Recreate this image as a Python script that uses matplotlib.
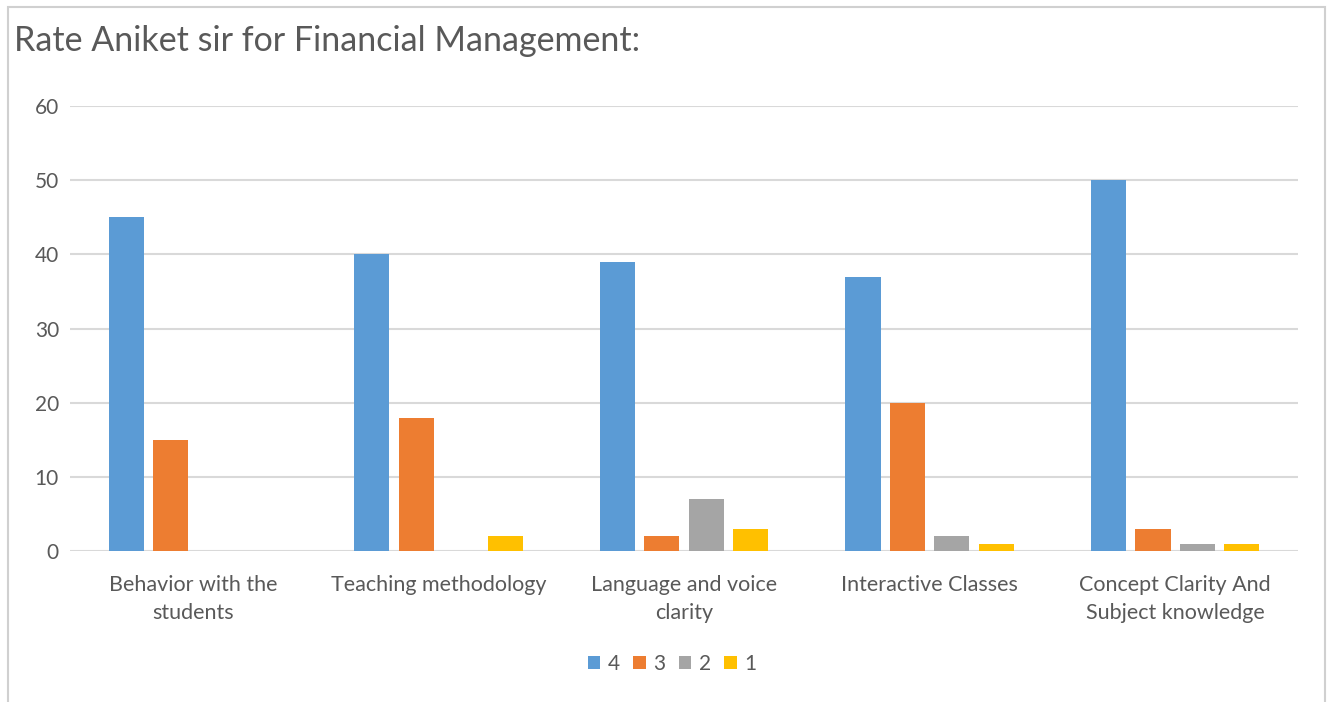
import matplotlib.pyplot as plt
import numpy as np
from matplotlib.patches import Rectangle

plt.rcParams['font.family'] = ['Lato', 'DejaVu Sans']

categories = ["Behavior with the\nstudents", "Teaching methodology",
              "Language and voice\nclarity", "Interactive Classes",
              "Concept Clarity And\nSubject knowledge"]
series_names = ["4", "3", "2", "1"]
rating_4 = [45, 40, 39, 37, 50]
rating_3 = [15, 18, 2, 20, 3]
rating_2 = [0, 0, 7, 2, 1]
rating_1 = [0, 2, 3, 1, 1]
colors = ["#5B9BD5", "#ED7D31", "#A5A5A5", "#FFC000"]
yticks = [0, 10, 20, 30, 40, 50, 60]

text_color = "#595959"
grid_color = "#D9D9D9"

fig = plt.figure(figsize=(13.32, 7.02), dpi=100)
fig.patches.append(Rectangle((0.006, -0.01), 0.989, 1.0, transform=fig.transFigure,
                             fill=False, edgecolor="#D0D0D0", linewidth=1.5))
ax = fig.add_axes([0.0526, 0.2151, 0.9219, 0.6339])

x = np.arange(len(categories))
width = 0.143
step = 0.181
for i, (vals, name) in enumerate(zip([rating_4, rating_3, rating_2, rating_1], series_names)):
    ax.bar(x + (i - 1.5) * step, vals, width, color=colors[i], label=name, zorder=3)

ax.set_xlim(-0.5, len(categories) - 0.5)
ax.set_ylim(0, 60)
ax.set_yticks(yticks)
ax.set_xticks(x)
ax.set_xticklabels(categories, fontsize=15.5, color=text_color, linespacing=1.55)
ax.tick_params(axis='y', length=0, labelsize=15, labelcolor=text_color, pad=8)
ax.tick_params(axis='x', length=0, labelcolor=text_color, pad=17)
ax.grid(axis='y', color=grid_color, linewidth=1.5, zorder=0)
for s in ax.spines.values():
    s.set_visible(False)

fig.text(0.0105, 0.942, "Rate Aniket sir for Financial Management:", fontsize=24.5,
         color=text_color, ha='left', va='center')

fig.legend(loc='center', bbox_to_anchor=(0.5045, 0.054), ncol=4, frameon=False,
           fontsize=15, labelcolor=text_color, handlelength=0.6, handleheight=0.6,
           handletextpad=0.35, columnspacing=0.65)

fig.savefig("out.png", dpi=100)
